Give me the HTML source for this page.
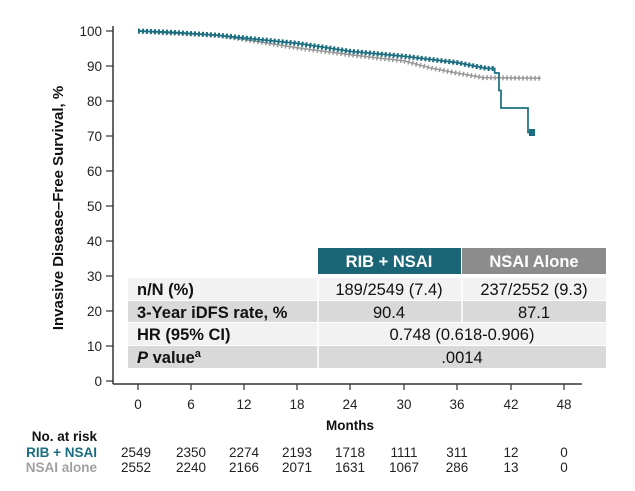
<!DOCTYPE html>
<html><head><style>
body{margin:0;background:#fff;}
svg text{font-family:"Liberation Sans",Arial,sans-serif;}
</style></head><body>
<svg width="635" height="486" xmlns="http://www.w3.org/2000/svg">
<rect width="635" height="486" fill="#fff"/>
<line x1="113" y1="26" x2="113" y2="384" stroke="#333" stroke-width="1.5"/>
<line x1="113" y1="384" x2="582" y2="384" stroke="#333" stroke-width="1.5"/>
<g stroke="#333" stroke-width="1.2">
<line x1="106" y1="31" x2="113" y2="31"/><line x1="106" y1="66" x2="113" y2="66"/>
<line x1="106" y1="101" x2="113" y2="101"/><line x1="106" y1="136" x2="113" y2="136"/>
<line x1="106" y1="171" x2="113" y2="171"/><line x1="106" y1="206" x2="113" y2="206"/>
<line x1="106" y1="241" x2="113" y2="241"/><line x1="106" y1="276" x2="113" y2="276"/>
<line x1="106" y1="311" x2="113" y2="311"/><line x1="106" y1="346" x2="113" y2="346"/>
<line x1="106" y1="381" x2="113" y2="381"/>
<line x1="138" y1="384" x2="138" y2="390"/><line x1="191" y1="384" x2="191" y2="390"/>
<line x1="244" y1="384" x2="244" y2="390"/><line x1="297" y1="384" x2="297" y2="390"/>
<line x1="350" y1="384" x2="350" y2="390"/><line x1="404" y1="384" x2="404" y2="390"/>
<line x1="457" y1="384" x2="457" y2="390"/><line x1="511" y1="384" x2="511" y2="390"/>
<line x1="564" y1="384" x2="564" y2="390"/>
</g>
<g font-size="13.5" fill="#222" text-anchor="end">
<text x="102" y="36">100</text><text x="102" y="71">90</text><text x="102" y="106">80</text>
<text x="102" y="141">70</text><text x="102" y="176">60</text><text x="102" y="211">50</text>
<text x="102" y="246">40</text><text x="102" y="281">30</text><text x="102" y="316">20</text>
<text x="102" y="351">10</text><text x="102" y="386">0</text>
</g>
<g font-size="13.5" fill="#222" text-anchor="middle">
<text x="138" y="409">0</text><text x="191" y="409">6</text><text x="244" y="409">12</text>
<text x="297" y="409">18</text><text x="350" y="409">24</text><text x="404" y="409">30</text>
<text x="457" y="409">36</text><text x="511" y="409">42</text><text x="564" y="409">48</text>
</g>
<text x="350" y="430" font-size="13.5" font-weight="bold" text-anchor="middle" fill="#111">Months</text>
<text transform="translate(63,208) rotate(-90)" font-size="15" font-weight="bold" text-anchor="middle" fill="#111">Invasive Disease–Free Survival, %</text>
<polyline fill="none" stroke="#999" stroke-width="1.5" points="138,31 164.6,32.8 217.7,35.2 261.9,42.2 297.3,47.8 350.4,54.8 403.5,60.8 430,67.8 456.6,73 483.2,77.6 540.7,78.3"/>
<polyline fill="none" stroke="#999" stroke-width="5" stroke-dasharray="1.5 2.5" points="138,31 164.6,32.8 217.7,35.2 261.9,42.2 297.3,47.8 350.4,54.8 403.5,60.8 430,67.8 456.6,73 483.2,77.6 540.7,78.3"/>
<polyline fill="none" stroke="#1a6e80" stroke-width="1.7" points="138,31 173.4,32.4 217.7,35.2 261.9,39.8 297.3,43.3 350.4,51.3 403.5,56.2 456.6,62.5 474.3,66 487.6,68.5 494.7,68.5 494.7,73 499,73 499,90.5 501,90.5 501,108 528,108 528,132.5 533,132.5"/>
<polyline fill="none" stroke="#1a6e80" stroke-width="5" stroke-dasharray="2 2" points="138,31 173.4,32.4 217.7,35.2 261.9,39.8 297.3,43.3 350.4,51.3 403.5,56.2 456.6,62.5 474.3,66 487.6,68.5 494.7,68.5"/>
<rect x="529" y="129" width="6" height="7" fill="#1a6e80"/>
<rect x="318" y="248" width="143" height="26" fill="#1a6677"/>
<rect x="462" y="248" width="144" height="26" fill="#8c8c8c"/>
<text x="389" y="267" font-size="16.5" font-weight="bold" fill="#fff" text-anchor="middle">RIB + NSAI</text>
<text x="534" y="267" font-size="16.5" font-weight="bold" fill="#fff" text-anchor="middle">NSAI Alone</text>
<rect x="128" y="278" width="478" height="22" fill="#f2f2f2"/>
<rect x="128" y="301" width="478" height="21" fill="#d9d9d9"/>
<rect x="128" y="323" width="478" height="22" fill="#f2f2f2"/>
<rect x="128" y="346" width="478" height="22" fill="#d9d9d9"/>
<g stroke="#fff" stroke-width="1.5"><line x1="318" y1="278" x2="318" y2="368"/><line x1="462" y1="278" x2="462" y2="322"/></g>
<g font-size="16.5" fill="#111">
<text x="137" y="295" font-weight="bold">n/N (%)</text>
<text x="137" y="318" font-weight="bold">3-Year iDFS rate, %</text>
<text x="137" y="340" font-weight="bold">HR (95% CI)</text>
<text x="137" y="363" font-weight="bold"><tspan font-style="italic">P</tspan> value<tspan font-size="11" dy="-6">a</tspan></text>
<text x="389" y="295" text-anchor="middle">189/2549 (7.4)</text>
<text x="534" y="295" text-anchor="middle">237/2552 (9.3)</text>
<text x="389" y="318" text-anchor="middle">90.4</text>
<text x="534" y="318" text-anchor="middle">87.1</text>
<text x="462" y="340" text-anchor="middle">0.748 (0.618-0.906)</text>
<text x="462" y="363" text-anchor="middle">.0014</text>
</g>
<text x="97" y="441" font-size="13.5" font-weight="bold" fill="#111" text-anchor="end">No. at risk</text>
<text x="97" y="457" font-size="13.5" font-weight="bold" fill="#1a6e80" text-anchor="end">RIB + NSAI</text>
<text x="97" y="472" font-size="13.5" font-weight="bold" fill="#a0a0a0" text-anchor="end">NSAI alone</text>
<g font-size="13.5" fill="#222" text-anchor="middle">
<text x="136" y="457">2549</text><text x="191" y="457">2350</text><text x="244" y="457">2274</text>
<text x="297" y="457">2193</text><text x="350" y="457">1718</text><text x="404" y="457">1111</text>
<text x="457" y="457">311</text><text x="511" y="457">12</text><text x="564" y="457">0</text>
<text x="136" y="472">2552</text><text x="191" y="472">2240</text><text x="244" y="472">2166</text>
<text x="297" y="472">2071</text><text x="350" y="472">1631</text><text x="404" y="472">1067</text>
<text x="457" y="472">286</text><text x="511" y="472">13</text><text x="564" y="472">0</text>
</g>
</svg>
</body></html>
